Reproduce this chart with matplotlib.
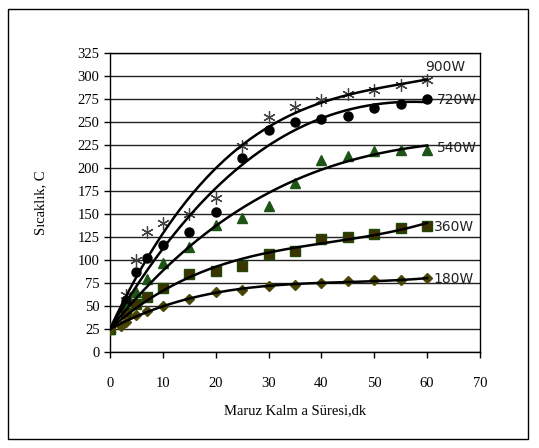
import numpy as np
import matplotlib
matplotlib.use('Agg')
import matplotlib.pyplot as plt
from matplotlib import patches

# data (time in minutes, temperature in C)
t_900 = [0, 3, 5, 7, 10, 15, 20, 25, 30, 35, 40, 45, 50, 55, 60]
v_900 = [25, 62, 100, 130, 140, 150, 167, 224, 255, 266, 274, 280, 285, 290, 295]

t_720 = [0, 3, 5, 7, 10, 15, 20, 25, 30, 35, 40, 45, 50, 55, 60]
v_720 = [25, 55, 87, 102, 116, 130, 152, 211, 241, 250, 253, 256, 265, 270, 275]

t_540 = [0, 3, 5, 7, 10, 15, 20, 25, 30, 35, 40, 45, 50, 55, 60]
v_540 = [25, 48, 65, 79, 97, 114, 138, 146, 159, 184, 209, 213, 218, 220, 220]

t_360 = [0, 3, 5, 7, 10, 15, 20, 25, 30, 35, 40, 45, 50, 55, 60]
v_360 = [25, 42, 52, 60, 70, 85, 88, 94, 107, 110, 123, 125, 128, 135, 137]

t_180 = [0, 2, 3, 5, 7, 10, 15, 20, 25, 30, 35, 40, 45, 50, 55, 60]
v_180 = [25, 28, 33, 40, 45, 50, 58, 65, 68, 72, 73, 75, 77, 78, 78, 80]

labels = ['900W', '720W', '540W', '360W', '180W']
label_pos = [(59.6, 310), (61.8, 274), (61.8, 222), (61.2, 136), (61.2, 79)]

series = [(t_900, v_900), (t_720, v_720), (t_540, v_540), (t_360, v_360), (t_180, v_180)]
styles = [
    dict(marker=(6, 2, 0), ms=9, mec='#404040', mfc='#404040', mew=0.9),
    dict(marker='o', ms=6.5, mec='black', mfc='black'),
    dict(marker='^', ms=7.5, mec='#1d5516', mfc='#1d5516'),
    dict(marker='s', ms=7.5, mec='#1e4a0a', mfc='#3d3300', mew=1.0),
    dict(marker='D', ms=5, mec='#4a4a08', mfc='#4a4205'),
]

fig = plt.figure(figsize=(5.39, 4.48), dpi=100)
ax = fig.add_axes([0.204, 0.214, 0.6865, 0.668])

for (t, v), st in zip(series, styles):
    ax.plot(t, v, linestyle='none', zorder=3, **st)
    # polynomial trendline, pinned near the starting temperature
    w = np.ones(len(t))
    w[0] = 10
    c = np.polyfit(t, v, 3, w=w)
    tt = np.linspace(0, 60, 200)
    ax.plot(tt, np.polyval(c, tt), color='black', lw=1.8, zorder=4)

serif = ['Liberation Serif', 'DejaVu Serif']
for lab, (x, y) in zip(labels, label_pos):
    ax.text(x, y, lab, fontsize=10, family='DejaVu Sans', color='#222222',
            ha='left', va='center', zorder=5)

ax.set_xlim(0, 70)
ax.set_ylim(0, 325)
ax.set_xticks(range(0, 71, 10))
ax.set_yticks(range(0, 326, 25))
ax.yaxis.grid(True, color='#222222', lw=1.0)
ax.set_axisbelow(True)
for s in ax.spines.values():
    s.set_color('black')
    s.set_linewidth(1.0)
ax.tick_params(direction='out', length=4, width=1, colors='black', labelsize=10.5)
ax.tick_params(axis='x', pad=14)
for lbl in ax.get_xticklabels() + ax.get_yticklabels():
    lbl.set_family(serif)

ax.set_xlabel('Maruz Kalm a Süresi,dk', family=serif, fontsize=10.5, labelpad=10)
ax.set_ylabel('Sıcaklık, C', family=serif, fontsize=10.5, labelpad=22)

fig.patches.append(patches.Rectangle((8 / 539, 9 / 448), 520 / 539, 430 / 448,
                                     transform=fig.transFigure, fill=False,
                                     edgecolor='black', lw=1.0))

fig.savefig('out.png', dpi=100)
